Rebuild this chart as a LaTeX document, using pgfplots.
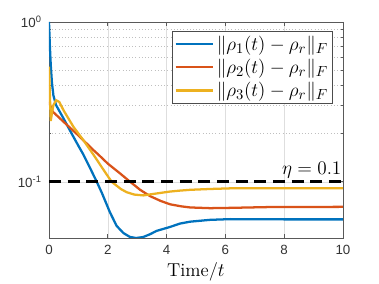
\documentclass[border=0pt]{standalone}
\usepackage{fontspec}
\usepackage{pgfplots}
\pgfplotsset{compat=1.18}
\newfontfamily\helv{Liberation Sans}
\definecolor{mblue}{rgb}{0,0.447,0.741}
\definecolor{morange}{rgb}{0.85,0.325,0.098}
\definecolor{myellow}{rgb}{0.929,0.694,0.125}
\begin{document}
\begin{tikzpicture}
\begin{axis}[
  at={(0pt,0pt)}, anchor=south west,
  scale only axis, width=220.5pt, height=162pt,
  ymode=log, xmin=0, xmax=10, ymin=0.0445, ymax=1,
  xtick={0,2,4,6,8,10},
  ytick={0.1,1}, yticklabels={10\textsuperscript{-1},10\textsuperscript{0}},
  /pgf/number format/assume math mode=true,
  tick label style={font=\helv\fontsize{10}{12}\selectfont, text=black!80},
  yticklabel style={xshift=-2pt},
  xticklabel style={yshift=-2pt},
  axis line style={black!65, line width=0.5pt},
  tick style={black!65, line width=0.5pt},
  major tick length=3pt, minor tick length=1.8pt,
  xmajorgrids, ymajorgrids, yminorgrids,
  major grid style={black!13, line width=0.4pt},
  minor grid style={black!25, dotted, line width=0.4pt},
  xlabel={Time/$t$},
  xlabel style={at={(axis description cs:0.5,0)}, anchor=base, yshift=-29pt, font=\fontsize{14}{16}\selectfont},
  legend style={at={(rel axis cs:0.966,0.958)}, anchor=north east, draw=black!70, fill=white,
    font=\fontsize{15}{18}\selectfont, line width=0.5pt, inner sep=1.5pt, row sep=1pt},
  legend cell align=left,
  legend image code/.code={\draw[#1] (0pt,0pt) -- (28pt,0pt);},
]
\addplot[mblue, line width=1.7pt] coordinates {
(0,1.0) (0.03,0.708) (0.06,0.537) (0.1,0.417) (0.15,0.347) (0.24,0.302)
(0.5,0.248) (0.71,0.210) (1.0,0.168) (1.17,0.148) (1.4,0.1216) (1.6,0.1023)
(1.8,0.0851) (2.07,0.0646) (2.3,0.0530) (2.53,0.0478) (2.75,0.0452) (2.96,0.0445)
(3.2,0.0451) (3.44,0.0470) (3.66,0.0493) (4.12,0.0522) (4.46,0.0548) (4.8,0.0563)
(5.48,0.0578) (6.16,0.0584) (7,0.0583) (8,0.0582) (10,0.0582)};
\addlegendentry{$\|\rho_1(t)-\rho_r\|_F$}
\addplot[morange, line width=1.7pt] coordinates {
(0,0.316) (0.06,0.295) (0.125,0.275) (0.5,0.237) (1.0,0.195) (1.51,0.158)
(1.68,0.148) (2.0,0.130) (2.4,0.1135) (2.76,0.1) (3.1,0.0891) (3.44,0.0813)
(3.8,0.0759) (4.12,0.0723) (4.5,0.0702) (4.8,0.0691) (5.48,0.0684) (6.16,0.0687)
(7.5,0.0695) (10,0.0697)};
\addlegendentry{$\|\rho_2(t)-\rho_r\|_F$}
\addplot[myellow, line width=1.7pt] coordinates {
(0,0.525) (0.02,0.398) (0.06,0.240) (0.1,0.269) (0.15,0.302) (0.24,0.324)
(0.35,0.316) (0.5,0.279) (0.83,0.221) (1.17,0.182) (1.51,0.148) (1.8,0.123)
(2.13,0.1) (2.45,0.090) (2.64,0.0861) (2.9,0.0832) (3.21,0.0822) (3.44,0.0834)
(3.77,0.0851) (4.12,0.0869) (4.46,0.0881) (4.8,0.0891) (5.5,0.0902) (6.16,0.0910)
(10,0.0912)};
\addlegendentry{$\|\rho_3(t)-\rho_r\|_F$}
\addplot[black, line width=2pt, dash pattern=on 9pt off 5pt, forget plot] coordinates {(0,0.1) (10,0.1)};
\node[anchor=base east, inner sep=0pt, font=\fontsize{13.5}{16}\selectfont] at (axis cs:10,0.1) [yshift=5.2pt, xshift=-1pt] {$\eta=0.1$};
\end{axis}
\pgfresetboundingbox
\path[use as bounding box] (-36.75pt,-34.5pt) rectangle (247.5pt,178.5pt);
\end{tikzpicture}
\end{document}
